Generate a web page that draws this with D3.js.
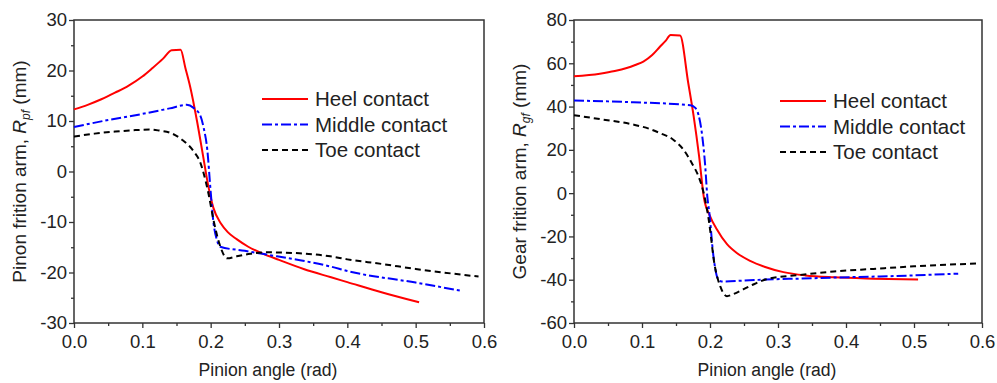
<!DOCTYPE html>
<html>
<head>
<meta charset="utf-8">
<script src="https://cdn.jsdelivr.net/npm/d3@7"></script>
<style>
  body { margin: 0; background: #fff; }
  svg text { font-family: "Liberation Sans", Arial, sans-serif; fill: #222; }
</style>
</head>
<body>
<svg id="chart" width="997" height="383"></svg>
<script>
// pinion friction arm [angle rad, mm]
const pinionHeel = [
  [0, 12.3], [0.02, 13.2], [0.04, 14.3], [0.06, 15.6], [0.08, 17.0], [0.10, 18.8],
  [0.115, 20.5], [0.13, 22.3], [0.143, 24.0], [0.156, 24.1], [0.163, 20.5], [0.170, 16.8],
  [0.18, 10], [0.189, 3], [0.196, -2.5], [0.204, -7.2], [0.215, -10.3], [0.225, -12.0],
  [0.238, -13.4], [0.255, -14.9], [0.277, -16.3], [0.30, -17.5], [0.336, -19.3],
  [0.375, -20.9], [0.40, -21.9], [0.45, -23.9], [0.505, -25.9]
];
const pinionMiddle = [
  [0, 8.8], [0.05, 10.2], [0.10, 11.4], [0.14, 12.5], [0.165, 13.2], [0.175, 12.6],
  [0.185, 11], [0.19, 8.5], [0.195, 4.4], [0.20, -4], [0.204, -10], [0.209, -13.5],
  [0.214, -14.9], [0.25, -15.7], [0.297, -16.8], [0.34, -17.8], [0.375, -18.8],
  [0.40, -19.7], [0.50, -22.0], [0.566, -23.6]
];
const pinionToe = [
  [0, 6.9], [0.03, 7.5], [0.06, 7.9], [0.09, 8.2], [0.112, 8.3], [0.125, 8.1],
  [0.14, 7.7], [0.158, 6.3], [0.175, 4.0], [0.185, 1.7], [0.19, -0.5], [0.197, -4.5],
  [0.204, -9.5], [0.214, -14.8], [0.224, -17.2], [0.238, -16.8], [0.258, -16.3],
  [0.28, -16.0], [0.33, -16.2], [0.375, -16.8], [0.40, -17.4], [0.45, -18.3],
  [0.50, -19.3], [0.592, -20.8]
];

// gear friction arm [angle rad, mm]
const gearHeel = [
  [0, 54], [0.038, 55.2], [0.06, 56.4], [0.0775, 57.8], [0.09, 59.2], [0.102, 60.8],
  [0.115, 63.8], [0.126, 67.5], [0.135, 70.5], [0.142, 73.1], [0.156, 72.8],
  [0.168, 50.9], [0.176, 35.5], [0.184, 17], [0.191, -2], [0.20, -10.6], [0.21, -16.7],
  [0.225, -23.6], [0.24, -27.8], [0.259, -31.3], [0.28, -34], [0.308, -36.5],
  [0.34, -38], [0.382, -38.9], [0.44, -39.5], [0.506, -39.9]
];
const gearMiddle = [
  [0, 42.8], [0.087, 42], [0.171, 40.6], [0.178, 39.5], [0.183, 36.3], [0.188, 27.8],
  [0.193, 12.4], [0.196, -1.4], [0.199, -9], [0.205, -29], [0.212, -39.8], [0.217, -40.8],
  [0.25, -40.4], [0.283, -39.9], [0.33, -39.5], [0.382, -39.0], [0.45, -38.5],
  [0.50, -38], [0.565, -37.2]
];
const gearToe = [
  [0, 36], [0.038, 34.2], [0.087, 31.7], [0.11, 29.8], [0.126, 27.8], [0.146, 24.7],
  [0.161, 20.1], [0.173, 14], [0.183, 7.8], [0.19, 1], [0.198, -12], [0.207, -33.6],
  [0.215, -43], [0.225, -47.6], [0.234, -46.7], [0.259, -42.9], [0.283, -39.8],
  [0.332, -37.8], [0.382, -36.2], [0.44, -35], [0.50, -33.8], [0.592, -32.5]
];

const seriesNames = ["Heel contact", "Middle contact", "Toe contact"];
const xTicks = [0, 0.1, 0.2, 0.3, 0.4, 0.5, 0.6];
const pinionTicks = [-30, -20, -10, 0, 10, 20, 30];
const gearTicks = [-60, -40, -20, 0, 20, 40, 60, 80];

const styles = [
  { color: "#ff0000", dash: null },
  { color: "#0000ff", dash: "10,3,3,3" },
  { color: "#000000", dash: "6,4" }
];

const svg = d3.select("#chart");
const height = 383;
const margin = { top: 20, bottom: 60 };

function drawPanel(opts) {
  const x = d3.scaleLinear().domain([0, 0.6]).range([opts.left, opts.right]);
  const y = d3.scaleLinear()
    .domain(d3.extent(opts.yTicks))
    .range([height - margin.bottom, margin.top]);
  const g = svg.append("g");

  // minor ticks halfway between the labelled ones
  const xMinor = d3.range(0.05, 0.6, 0.1);
  const yStep = opts.yTicks[1] - opts.yTicks[0];
  const yMinor = opts.yTicks.slice(0, -1).map(v => v + yStep / 2);

  g.append("g")
    .attr("transform", `translate(0,${y.range()[0]})`)
    .call(d3.axisBottom(x).tickValues(xMinor).tickSize(3).tickFormat(""));
  g.append("g")
    .attr("transform", `translate(${opts.left},0)`)
    .call(d3.axisLeft(y).tickValues(yMinor).tickSize(3).tickFormat(""));

  // x axis
  g.append("g")
    .attr("transform", `translate(0,${y.range()[0]})`)
    .call(d3.axisBottom(x).tickValues(xTicks).tickSize(5).tickPadding(7)
      .tickFormat(d3.format(".1f")));
  // y axis, plain hyphen for negatives
  g.append("g")
    .attr("transform", `translate(${opts.left},0)`)
    .call(d3.axisLeft(y).tickValues(opts.yTicks).tickSize(5).tickPadding(2)
      .tickFormat(d => String(d)));

  g.selectAll(".tick text").attr("font-size", 18.5).attr("fill", "#222")
    .style("font-family", '"Liberation Sans", Arial, sans-serif');
  g.selectAll(".tick line").attr("stroke", "#333").attr("stroke-width", 1.3);
  g.selectAll(".domain").remove();

  // frame
  g.append("rect")
    .attr("x", opts.left).attr("y", margin.top)
    .attr("width", opts.right - opts.left)
    .attr("height", y.range()[0] - margin.top)
    .attr("fill", "none").attr("stroke", "#333").attr("stroke-width", 1.5);

  // curves
  const line = d3.line()
    .curve(d3.curveMonotoneX)
    .x(d => x(d[0]))
    .y(d => y(d[1]));
  opts.series.forEach((s, i) => {
    g.append("path")
      .datum(s)
      .attr("fill", "none")
      .attr("stroke", styles[i].color)
      .attr("stroke-width", 2)
      .attr("stroke-dasharray", styles[i].dash)
      .attr("stroke-linejoin", "round")
      .attr("d", line);
  });

  // legend
  const lg = g.append("g").attr("transform", `translate(${opts.legendX},${opts.legendY})`);
  seriesNames.forEach((name, i) => {
    const row = lg.append("g").attr("transform", `translate(0,${i * 25.5})`);
    row.append("line")
      .attr("x1", 0).attr("x2", 46)
      .attr("stroke", styles[i].color)
      .attr("stroke-width", 2)
      .attr("stroke-dasharray", styles[i].dash);
    row.append("text")
      .attr("x", 53).attr("dy", "0.35em")
      .attr("font-size", 20.5)
      .text(name);
  });

  // axis titles
  g.append("text")
    .attr("x", (opts.left + opts.right) / 2 - 11)
    .attr("y", 376)
    .attr("text-anchor", "middle")
    .attr("font-size", 17.6)
    .text("Pinion angle (rad)");

  const yt = g.append("text")
    .attr("transform", `translate(${opts.titleX},${(margin.top + y.range()[0]) / 2}) rotate(-90)`)
    .attr("text-anchor", "middle")
    .attr("font-size", 19);
  yt.append("tspan").text(opts.yTitle);
  yt.append("tspan").attr("font-style", "italic").text("R");
  yt.append("tspan").attr("font-style", "italic").attr("font-size", 12).attr("dy", 4).text(opts.sub);
  yt.append("tspan").attr("dy", -4).text(" (mm)");
}

drawPanel({
  left: 74, right: 484, yTicks: pinionTicks,
  series: [pinionHeel, pinionMiddle, pinionToe],
  legendX: 262, legendY: 99, titleX: 26,
  yTitle: "Pinon frition arm, ", sub: "pf"
});
drawPanel({
  left: 574, right: 982, yTicks: gearTicks,
  series: [gearHeel, gearMiddle, gearToe],
  legendX: 780, legendY: 101, titleX: 526,
  yTitle: "Gear frition arm, ", sub: "gf"
});
</script>
</body>
</html>
